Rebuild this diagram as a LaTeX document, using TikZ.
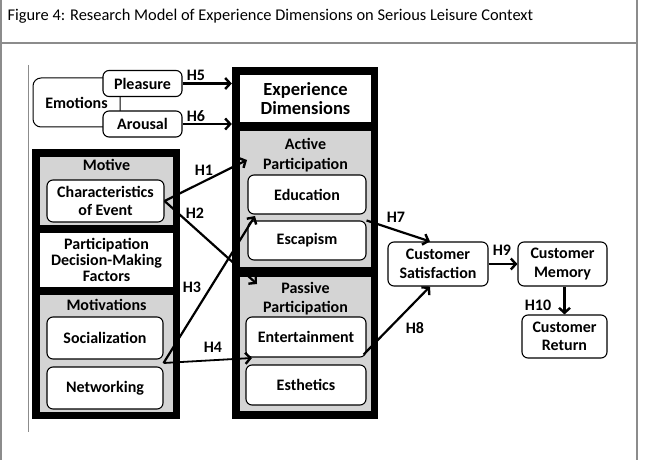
\documentclass[tikz,border=0pt]{standalone}
\usepackage{fontspec}
\setmainfont{Carlito}
\usetikzlibrary{arrows.meta,calc}

\begin{document}
\begin{tikzpicture}[x=1pt,y=-1pt,
  box/.style={draw,rounded corners=6pt,fill=white,line width=1.1pt,align=center,inner sep=0pt,font=\bfseries\fontsize{16}{18.5}\selectfont},
  blackframe/.style={fill=black,inner sep=0pt},
  dotsec/.style={fill=black!17,inner sep=0pt},
  whitesec/.style={fill=white,inner sep=0pt,align=center},
  seclab/.style={align=center,font=\bfseries\fontsize{16}{19.5}\selectfont},
  hyp/.style={line width=2.6pt,-{Straight Barb[length=5pt,width=11pt,line width=2.4pt]}},
  hyplab/.style={font=\bfseries\fontsize{16}{18}\selectfont},
  tableline/.style={draw=black!45,line width=1.3pt}]
\useasboundingbox (0,0) rectangle (646,460);

% table frame
\draw [tableline] (1,0) -- (1,460);
\draw [tableline] (637,0) -- (637,460);
\draw [tableline] (1,43) -- (637,43);
\draw [black!45,line width=0.8pt] (28,65) -- (28,432);
\node [anchor=west,font=\fontsize{16.4}{18}\selectfont] (title) at (4,16) {Figure 4: Research Model of Experience Dimensions on Serious Leisure Context};

% emotions
\node [draw,rounded corners=8pt,line width=1pt,minimum width=87pt,minimum height=49pt,inner sep=0pt,font=\bfseries\fontsize{16}{18}\selectfont] (emo) at (76.5,102.5) {Emotions};
\node [box,minimum width=79pt,minimum height=26pt] (pleas) at (142.5,83.5) {Pleasure};
\node [box,minimum width=79pt,minimum height=26pt] (arou) at (142.5,124) {Arousal};

% experience dimensions
\node [blackframe,minimum width=146pt,minimum height=352pt] (expframe) at (305,243) {};
\node [whitesec,minimum width=131pt,minimum height=47pt,font=\bfseries\fontsize{18.5}{18.5}\selectfont] (exphead) at (305.5,98.5) {Experience\\Dimensions};
\node [dotsec,minimum width=131pt,minimum height=136pt] (active) at (305.5,199) {};
\node [seclab] (actlab) at (305.5,155) {Active\\Participation};
\node [box,minimum width=118pt,minimum height=39pt] (educ) at (307,194.5) {Education};
\node [box,minimum width=118pt,minimum height=39pt] (escap) at (307,240.5) {Escapism};
\node [dotsec,minimum width=131pt,minimum height=134pt] (passive) at (305.5,344) {};
\node [seclab] (paslab) at (305.5,298.5) {Passive\\Participation};
\node [box,minimum width=120pt,minimum height=40pt] (entert) at (306,337) {Entertainment};
\node [box,minimum width=120pt,minimum height=40pt] (esthe) at (306,385) {Esthetics};

% participation decision-making factors
\node [blackframe,minimum width=148pt,minimum height=270pt] (leftframe) at (106,284) {};
\node [dotsec,minimum width=133pt,minimum height=68pt] (motive) at (106.5,191) {};
\node [seclab] (motlab) at (106.5,165) {Motive};
\node [box,minimum width=117pt,minimum height=42pt] (charev) at (105.5,201) {Characteristics\\of Event};
\node [whitesec,minimum width=133pt,minimum height=54pt,font=\bfseries\fontsize{16}{16}\selectfont] (pdmf) at (106.5,260) {Participation\\Decision-Making\\Factors};
\node [dotsec,minimum width=133pt,minimum height=117pt] (motiv) at (106.5,353.5) {};
\node [seclab] (motivlab) at (106.5,305) {Motivations};
\node [box,minimum width=116pt,minimum height=42pt] (social) at (105,338) {Socialization};
\node [box,minimum width=116pt,minimum height=42pt] (netw) at (105,388) {Networking};

% customer outcomes
\node [box,minimum width=100pt,minimum height=44pt] (custsat) at (438,264) {Customer\\Satisfaction};
\node [box,minimum width=89pt,minimum height=44pt] (custmem) at (562.5,264) {Customer\\Memory};
\node [box,minimum width=85pt,minimum height=43pt] (custret) at (564.5,336.5) {Customer\\Return};

% hypotheses
\coordinate (motstart) at ($(social.south east)!.5!(netw.north east)$);
\coordinate (h1end) at (247,160);
\coordinate (h2end) at (257,284);
\coordinate (h3end) at (255,216);
\coordinate (h4end) at (252,358);
\draw [hyp] (pleas.east) -- (pleas.east -| expframe.west);
\draw [hyp] (arou.east) -- (arou.east -| expframe.west);
\draw [hyp,line width=2.2pt] (charev.east) -- (h1end);
\draw [hyp,line width=2.2pt] (charev.east) -- (h2end);
\draw [hyp,line width=2.2pt] (motstart) -- (h3end);
\draw [hyp,line width=1.8pt] (motstart) -- (h4end);
\draw [hyp,line width=2.2pt] (escap.north east) -- ([xshift=-8pt]custsat.north);
\draw [hyp,line width=2.2pt] ([xshift=-3pt,yshift=3pt]entert.south east) -- ([xshift=-8pt]custsat.south);
\draw [hyp] (custsat.east) -- (custmem.west);
\draw [hyp] (custret.north |- custmem.south) -- (custret.north);

\node [hyplab] (h5) at (196,75) {H5};
\node [hyplab] (h6) at (196,116) {H6};
\node [hyplab] (h1) at (204,170) {H1};
\node [hyplab] (h2) at (195,213) {H2};
\node [hyplab] (h3) at (192,287) {H3};
\node [hyplab] (h4) at (213,347) {H4};
\node [hyplab] (h7) at (396,217) {H7};
\node [hyplab] (h8) at (415,328) {H8};
\node [hyplab] (h9) at (502,250) {H9};
\node [hyplab] (h10) at (538,305) {H10};
\end{tikzpicture}
\end{document}
